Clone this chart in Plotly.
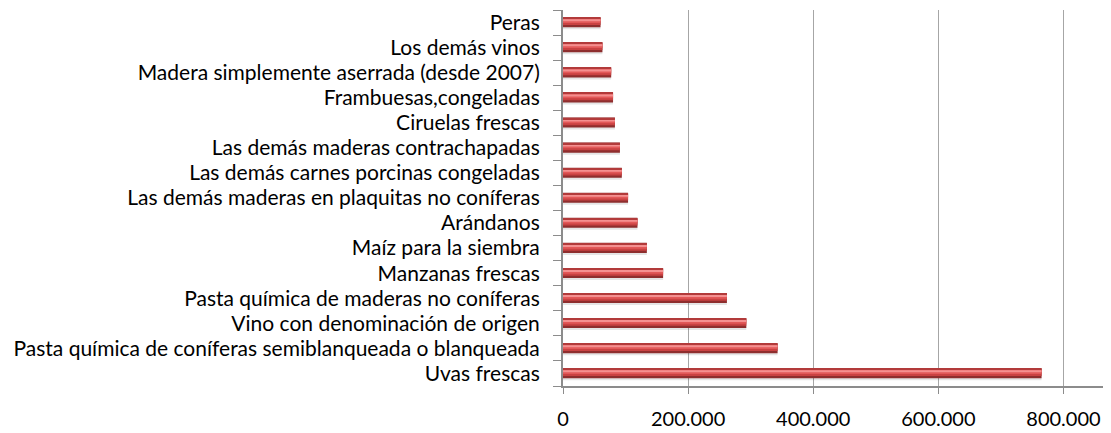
import plotly.graph_objects as go

# Categories listed bottom-to-top as drawn
categories = [
    "Uvas frescas",
    "Pasta química de coníferas semiblanqueada o blanqueada",
    "Vino con denominación de origen",
    "Pasta química de maderas no coníferas",
    "Manzanas frescas",
    "Maíz para la siembra",
    "Arándanos",
    "Las demás maderas en plaquitas no coníferas",
    "Las demás carnes porcinas congeladas",
    "Las demás maderas contrachapadas",
    "Ciruelas frescas",
    "Frambuesas,congeladas",
    "Madera simplemente aserrada (desde 2007)",
    "Los demás vinos",
    "Peras",
]
values = [765000, 343000, 293000, 262000, 160000, 134000, 119000, 104000,
          94000, 91000, 83000, 80000, 77000, 63000, 60000]

x_tickvals = [0, 200000, 400000, 600000, 800000]
x_ticktext = ["0", "200.000", "400.000", "600.000", "800.000"]

FONT = "Lato"
FS = 21

fig = go.Figure()

# shadow
fig.add_trace(go.Bar(y=categories, x=values, orientation="h",
                     marker=dict(color="rgba(0,0,0,0.10)", line=dict(width=0)),
                     offset=-0.27, width=0.40, hoverinfo="skip", showlegend=False))
# dark base
fig.add_trace(go.Bar(y=categories, x=values, orientation="h",
                     marker=dict(color="#8E2E2E", line=dict(width=0)),
                     offset=-0.19, width=0.40, showlegend=False))
# main red
fig.add_trace(go.Bar(y=categories, x=values, orientation="h",
                     marker=dict(color="#C94242", line=dict(width=0)),
                     offset=-0.10, width=0.27, hoverinfo="skip", showlegend=False))
# bright red
fig.add_trace(go.Bar(y=categories, x=values, orientation="h",
                     marker=dict(color="#E25858", line=dict(width=0)),
                     offset=-0.02, width=0.17, hoverinfo="skip", showlegend=False))
# highlight
fig.add_trace(go.Bar(y=categories, x=values, orientation="h",
                     marker=dict(color="#F49090", line=dict(width=0)),
                     offset=0.05, width=0.08, hoverinfo="skip", showlegend=False))
# top edge
fig.add_trace(go.Bar(y=categories, x=values, orientation="h",
                     marker=dict(color="#B23A3A", line=dict(width=0)),
                     offset=0.15, width=0.05, hoverinfo="skip", showlegend=False))

# page body has an 8px margin; figure size/margins compensate for it
fig.update_layout(
    width=1103, height=425,
    margin=dict(l=555, r=0, t=2, b=47),
    paper_bgcolor="white", plot_bgcolor="white",
    barmode="overlay",
    font=dict(family=FONT, size=FS, color="#000000"),
    showlegend=False,
)
fig.update_xaxes(
    range=[0, 876000],
    tickvals=x_tickvals, ticktext=x_ticktext,
    showgrid=True, gridcolor="#A6A6A6", gridwidth=1,
    zeroline=False,
    showline=True, linecolor="#8C8C8C", linewidth=2,
    ticks="outside", ticklen=6, tickcolor="#8C8C8C", tickwidth=1,
    ticklabelstandoff=8,
    automargin=False,
    tickfont=dict(family=FONT, size=20, color="#000000"),
)
fig.update_yaxes(
    type="category",
    categoryorder="array", categoryarray=categories,
    showgrid=False, zeroline=False,
    showline=True, linecolor="#8C8C8C", linewidth=2,
    ticks="outside", ticklen=8, tickcolor="#8C8C8C", tickwidth=1,
    tickson="boundaries",
    ticklabelstandoff=17,
    automargin=False,
    tickfont=dict(family=FONT, size=FS, color="#000000"),
)

fig.write_html("out.html")
